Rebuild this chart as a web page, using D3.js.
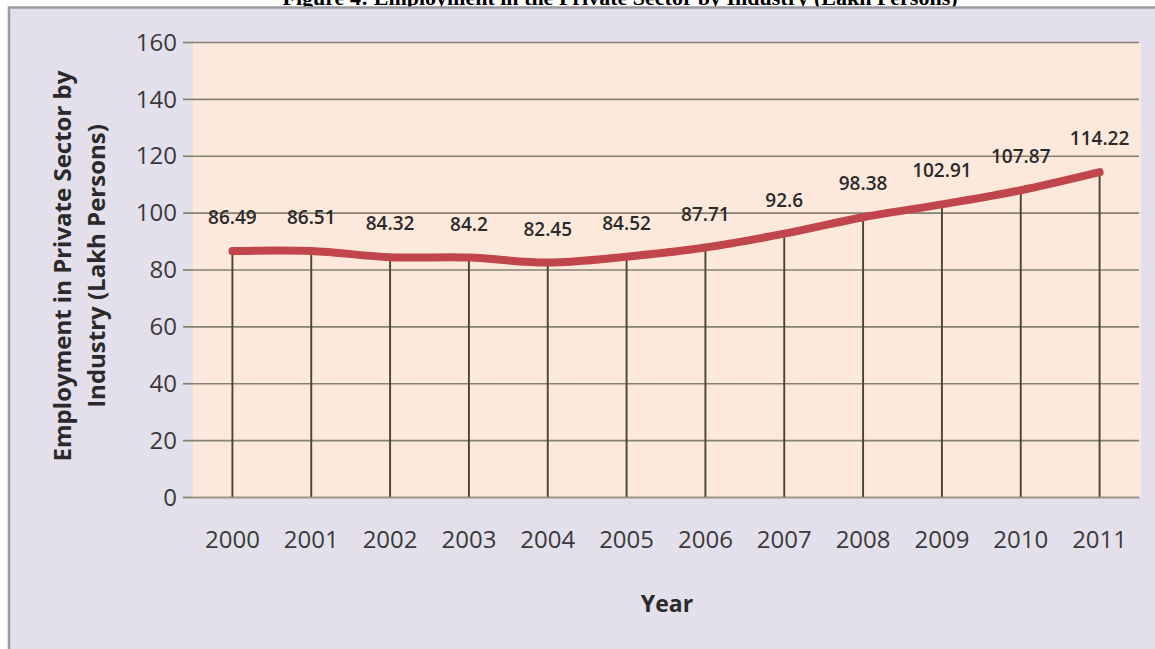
<!DOCTYPE html>
<html>
<head>
<meta charset="utf-8">
<script src="https://cdn.jsdelivr.net/npm/d3@7"></script>
<style>
  html, body { margin: 0; padding: 0; background: #ffffff; }
  svg { display: block; }
</style>
</head>
<body>
<svg id="chart" width="1155" height="649"></svg>
<script>
// Employment in the private sector by industry, lakh persons
const years = ["2000", "2001", "2002", "2003", "2004", "2005", "2006", "2007", "2008", "2009", "2010", "2011"];
const employment = [86.49, 86.51, 84.32, 84.2, 82.45, 84.52, 87.71, 92.6, 98.38, 102.91, 107.87, 114.22];
const yTicks = [0, 20, 40, 60, 80, 100, 120, 140, 160];

const W = 1155, H = 649;
const plot = { left: 193, right: 1141, top: 42, bottom: 497 };

const svg = d3.select("#chart");

// Figure caption (sits at the top edge)
svg.append("text")
  .attr("x", 620).attr("y", 5)
  .attr("text-anchor", "middle")
  .attr("font-family", "'Liberation Serif', 'Times New Roman', serif")
  .attr("font-weight", "bold")
  .attr("font-size", 22)
  .attr("fill", "#000")
  .text("Figure 4: Employment in the Private Sector by Industry (Lakh Persons)");

// Chart panel
svg.append("rect")
  .attr("x", 8).attr("y", 7).attr("width", W - 8).attr("height", H - 7)
  .attr("fill", "#e4e0eb");
svg.append("path")
  .attr("d", `M9,${H} V7.5 H${W}`)
  .attr("fill", "none").attr("stroke", "#9c9aa2").attr("stroke-width", 2.5);

// Plot background
svg.append("rect")
  .attr("x", plot.left).attr("y", plot.top)
  .attr("width", plot.right - plot.left).attr("height", plot.bottom - plot.top)
  .attr("fill", "#fde9dc");

const x = d3.scaleBand().domain(years).range([plot.left, plot.right - 2]).paddingInner(0).paddingOuter(0);
const y = d3.scaleLinear().domain([0, 160]).range([plot.bottom, plot.top]);
const cx = d => x(d) + x.bandwidth() / 2;

// Horizontal gridlines + y axis
const yAxis = d3.axisLeft(y).tickValues(yTicks).tickSize(-(plot.right - plot.left - 2)).tickSizeOuter(0).tickPadding(16);
const gy = svg.append("g").attr("transform", `translate(${plot.left},0)`).call(yAxis);
gy.select(".domain").remove();
gy.selectAll(".tick line").attr("stroke", "#858171").attr("stroke-width", 1.7);
gy.selectAll(".tick").append("line")
  .attr("x1", -10).attr("x2", 0)
  .attr("stroke", "#858171").attr("stroke-width", 1.7);
gy.selectAll(".tick text")
  .attr("font-family", "'Open Sans', sans-serif")
  .attr("font-size", 24)
  .attr("fill", "#3a3a3a")
  .attr("dy", "0.34em");

// Vertical drop lines from each point to the baseline
svg.append("g").selectAll("line")
  .data(years)
  .join("line")
  .attr("x1", d => cx(d)).attr("x2", d => cx(d))
  .attr("y1", (d, i) => y(employment[i])).attr("y2", y(0))
  .attr("stroke", "#474538").attr("stroke-width", 1.9);

// X axis
const xAxis = d3.axisBottom(x).tickSize(0).tickPadding(34);
const gx = svg.append("g").attr("transform", `translate(0,${plot.bottom})`).call(xAxis);
gx.select(".domain").attr("stroke", "#9a968c").attr("stroke-width", 1.6);
gx.selectAll(".tick text")
  .attr("font-family", "'Open Sans', sans-serif")
  .attr("font-size", 24)
  .attr("fill", "#3a3a3a");

// Employment line
const line = d3.line()
  .x((d, i) => cx(years[i]))
  .y(d => y(d))
  .curve(d3.curveCatmullRom.alpha(0.5));

svg.append("path")
  .datum(employment)
  .attr("d", line)
  .attr("fill", "none")
  .attr("stroke", "#c0464b")
  .attr("stroke-width", 8)
  .attr("stroke-linecap", "round")
  .attr("stroke-linejoin", "round");

// Value labels
svg.append("g").selectAll("text")
  .data(employment)
  .join("text")
  .attr("x", (d, i) => cx(years[i]))
  .attr("y", d => y(d) - 27)
  .attr("text-anchor", "middle")
  .attr("font-family", "'Open Sans', sans-serif")
  .attr("font-weight", 600)
  .attr("font-size", 19)
  .attr("fill", "#2a2a2a")
  .text(d => d);

// Axis titles
svg.append("text")
  .attr("x", (plot.left + plot.right) / 2).attr("y", 612)
  .attr("text-anchor", "middle")
  .attr("font-family", "'Open Sans', sans-serif")
  .attr("font-weight", "bold")
  .attr("font-size", 23)
  .attr("fill", "#2a2a2a")
  .text("Year");

const yTitle = svg.append("text")
  .attr("transform", "translate(0,266) rotate(-90)")
  .attr("text-anchor", "middle")
  .attr("font-family", "'Open Sans', sans-serif")
  .attr("font-weight", "bold")
  .attr("font-size", 24)
  .attr("fill", "#2a2a2a");
yTitle.append("tspan").attr("x", 0).attr("y", 71).text("Employment in Private Sector by");
yTitle.append("tspan").attr("x", 0).attr("y", 105).text("Industry (Lakh Persons)");
</script>
</body>
</html>
